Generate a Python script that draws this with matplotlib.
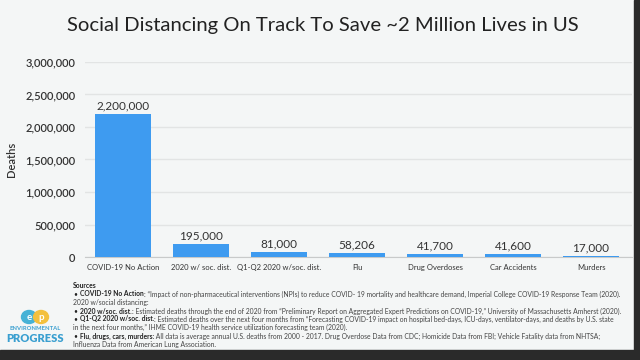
import matplotlib
matplotlib.use("Agg")
import matplotlib.pyplot as plt
from matplotlib.patches import Rectangle, Ellipse

plt.rcParams['font.family'] = ['Lato', 'DejaVu Sans']

# ---- data ----
categories = ["COVID-19 No Action", "2020 w/ soc. dist.", "Q1-Q2 2020 w/soc. dist.",
              "Flu", "Drug Overdoses", "Car Accidents", "Murders"]
deaths = [2200000, 195000, 81000, 58206, 41700, 41600, 17000]
yticks = [0, 500000, 1000000, 1500000, 2000000, 2500000, 3000000]

source_lines = [
    ("COVID-19 No Action", ": \u201cImpact of non-pharmaceutical interventions (NPIs) to reduce COVID- 19 mortality and healthcare demand, Imperial College COVID-19 Response Team (2020)."),
    (None, "2020 w/social distancing:"),
    ("2020 w/soc. dist.", ": Estimated deaths through the end of 2020 from \u201cPreliminary Report on Aggregated Expert Predictions on COVID-19,\u201d University of Massachusetts Amherst (2020)."),
    ("Q1-Q2 2020 w/soc. dist.", ": Estimated deaths over the next four months from \u201cForecasting COVID-19 impact on hospital bed-days, ICU-days, ventilator-days, and deaths by U.S. state"),
    (None, "in the next four months,\u201d IHME COVID-19 health service utilization forecasting team (2020)."),
    ("Flu, drugs, cars, murders:", " All data is average annual U.S. deaths from 2000 - 2017. Drug Overdose Data from CDC; Homicide Data from FBI; Vehicle Fatality data from NHTSA;"),
    (None, "Influenza Data from American Lung Association."),
]

bg = "#f4f6f6"
bar_color = "#3e9bf0"

fig = plt.figure(figsize=(6.4, 3.6), dpi=100, facecolor=bg)
ax = fig.add_axes([0.133, 0.286, 0.855, 0.542], facecolor=bg)

x = range(len(categories))
bars = ax.bar(x, deaths, width=0.72, color=bar_color, zorder=3)
for b, v in zip(bars, deaths):
    ax.annotate(f"{v:,}", (b.get_x() + b.get_width() / 2, v), xytext=(0, 2),
                textcoords="offset points", ha="center", va="bottom",
                fontsize=8.5, color="#333333")

ax.set_xlim(-0.49, 6.53)
ax.set_ylim(0, 3000000)
ax.set_yticks(yticks)
ax.set_yticklabels([f"{t:,}" for t in yticks], fontsize=8, color="#333333",
                   fontweight="semibold")
ax.set_xticks(list(x))
ax.set_xticklabels(categories, fontsize=5.5, color="#333333")
ax.tick_params(length=0, pad=7)
ax.tick_params(axis="x", pad=5)
ax.grid(axis="y", color="#e2e4e4", lw=1, zorder=0)
for s in ["top", "right", "left"]:
    ax.spines[s].set_visible(False)
ax.spines["bottom"].set_color("#c8caca")
ax.set_ylabel("Deaths", fontsize=8, color="#333333", fontweight="semibold", labelpad=6)

fig.text(0.505, 0.93, "Social Distancing On Track To Save ~2 Million Lives in US",
         ha="center", va="center", fontsize=14.6, color="#222222")

# ---- sources ----
fs = 4.9
fig.text(73 / 640, 1 - 286 / 360, "Sources", fontsize=fs, fontweight="bold",
         color="#222222", va="center")
ys = [294, 302, 311, 319, 327, 336, 344]
renderer = fig.canvas.get_renderer()
for (bold, rest), yp in zip(source_lines, ys):
    yf = 1 - yp / 360
    if bold is None:
        fig.text(73 / 640, yf, rest, fontsize=fs, color="#444444", va="center")
        continue
    fig.text(73 / 640, yf, "\u2022", fontsize=fs, color="#222222", va="center")
    t = fig.text(80 / 640, yf, bold, fontsize=fs, fontweight="bold", color="#222222", va="center")
    bb = t.get_window_extent(renderer)
    fig.text(bb.x1 / 640, yf, rest, fontsize=fs, color="#444444", va="center")

# ---- logo ----
fig.patches.append(Ellipse((29 / 640, 1 - 317 / 360), 15 / 640, 13 / 360,
                           transform=fig.transFigure, color="#46b2d6", figure=fig))
fig.patches.append(Ellipse((41 / 640, 1 - 317 / 360), 15 / 640, 13 / 360,
                           transform=fig.transFigure, color="#f3c03e", figure=fig))
fig.text(29 / 640, 1 - 317 / 360, "e", fontsize=7, color="white", fontweight="bold",
         ha="center", va="center")
fig.text(41 / 640, 1 - 317 / 360, "p", fontsize=7, color="white", fontweight="bold",
         ha="center", va="center")
fig.text(35 / 640, 1 - 329 / 360, "ENVIRONMENTAL", fontsize=4.2, color="#3a9fd0",
         fontweight="bold", ha="center", va="center")
fig.text(35 / 640, 1 - 339 / 360, "PROGRESS", fontsize=8, color="#3a9fd0",
         fontweight="heavy", ha="center", va="center")

# ---- dark frame edges ----
fig.patches.append(Rectangle((634 / 640, 0), 6 / 640, 1, transform=fig.transFigure,
                             color="#2a2a2a", figure=fig))
fig.patches.append(Rectangle((0, 0), 1, 10 / 360, transform=fig.transFigure,
                             color="#2a2a2a", figure=fig))

fig.savefig("out.png", dpi=100, facecolor=bg)
